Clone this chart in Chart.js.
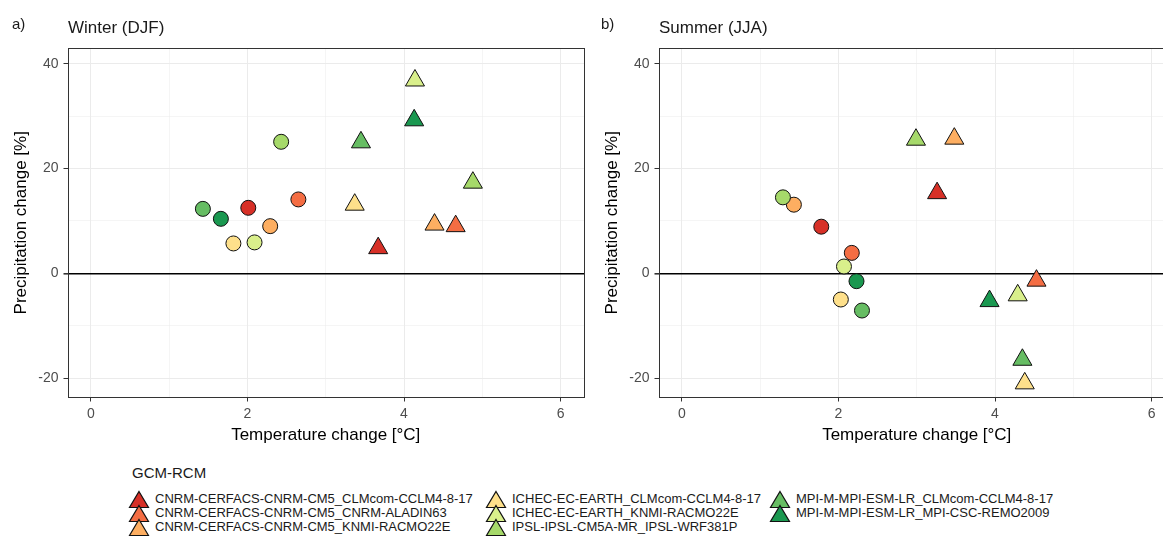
<!DOCTYPE html>
<html>
<head>
<meta charset="utf-8">
<script src="https://cdn.jsdelivr.net/npm/chart.js@4"></script>
<style>
  html, body { margin: 0; padding: 0; background: #fff; overflow: hidden; }
  #page { position: relative; width: 1163px; height: 536px; overflow: hidden; font-family: "Liberation Sans", Arial, sans-serif; color: #1a1a1a; }
  canvas { position: absolute; top: 0; }
  .tag { position: absolute; font-size: 15px; line-height: 18px; }
  .ttl { position: absolute; font-size: 17px; line-height: 20px; }
  .lgtitle { position: absolute; left: 132px; top: 464px; font-size: 15px; line-height: 18px; }
  .item { position: absolute; font-size: 13px; line-height: 14px; white-space: nowrap; }
  .item svg { position: absolute; left: -27px; top: -2px; }
</style>
</head>
<body>
<div id="page">
  <canvas id="winter" width="591" height="450" style="left:0px"></canvas>
  <canvas id="summer" width="591" height="450" style="left:591px"></canvas>
  <div class="tag" style="left:12px;top:15px">a)</div>
  <div class="ttl" style="left:68px;top:18px">Winter (DJF)</div>
  <div class="tag" style="left:601px;top:15px">b)</div>
  <div class="ttl" style="left:659px;top:18px">Summer (JJA)</div>
  <div class="lgtitle">GCM-RCM</div>
  <div id="legend"></div>
</div>
<script>
// GCM-RCM combinations and their colours (RdYlGn)
const models = [
  "CNRM-CERFACS-CNRM-CM5_CLMcom-CCLM4-8-17",
  "CNRM-CERFACS-CNRM-CM5_CNRM-ALADIN63",
  "CNRM-CERFACS-CNRM-CM5_KNMI-RACMO22E",
  "ICHEC-EC-EARTH_CLMcom-CCLM4-8-17",
  "ICHEC-EC-EARTH_KNMI-RACMO22E",
  "IPSL-IPSL-CM5A-MR_IPSL-WRF381P",
  "MPI-M-MPI-ESM-LR_CLMcom-CCLM4-8-17",
  "MPI-M-MPI-ESM-LR_MPI-CSC-REMO2009"
];
const colors = ["#d73027", "#f46d43", "#fdae61", "#fee08b", "#d9ef8b", "#a6d96a", "#66bd63", "#1a9850"];

// winter (DJF): circles and triangles, one value per model
const winterCircleT = [2.01, 2.65, 2.29, 1.82, 2.09, 2.43, 1.43, 1.66];
const winterCircleP = [12.5, 14.1, 9.0, 5.7, 5.9, 25.1, 12.3, 10.4];
const winterTriT = [3.67, 4.66, 4.39, 3.37, 4.14, 4.88, 3.45, 4.13];
const winterTriP = [4.8, 9.0, 9.3, 13.1, 36.8, 17.3, 25.0, 29.2];

// summer (JJA)
const summerCircleT = [1.78, 2.17, 1.43, 2.03, 2.07, 1.29, 2.30, 2.23];
const summerCircleP = [8.9, 3.9, 13.1, -5.0, 1.3, 14.5, -7.1, -1.5];
const summerTriT = [3.26, 4.53, 3.48, 4.38, 4.29, 2.99, 4.35, 3.93];
const summerTriP = [15.3, -1.4, 25.7, -21.0, -4.2, 25.5, -16.5, -5.3];

const xTicks = [0, 1, 2, 3, 4, 5, 6];
const yTicks = [-20, -10, 0, 10, 20, 30, 40];

const panelBorder = {
  id: 'panelBorder',
  afterDraw(chart) {
    const a = chart.chartArea, ctx = chart.ctx;
    ctx.save();
    ctx.strokeStyle = '#333';
    ctx.lineWidth = 1;
    ctx.strokeRect(Math.round(a.left) + 0.5, Math.round(a.top) + 0.5,
                   Math.round(a.right - a.left) - 1, Math.round(a.bottom - a.top) - 1);
    ctx.restore();
  }
};

function toPoints(xs, ys) {
  return xs.map((x, i) => ({x: x, y: ys[i]}));
}

function scatterPanel(canvasID, circT, circP, triT, triP) {
  const ctx = document.getElementById(canvasID).getContext('2d');
  return new Chart(ctx, {
    type: 'scatter',
    data: {
      datasets: [{
        data: toPoints(circT, circP),
        pointStyle: 'circle',
        pointRadius: 7.5,
        backgroundColor: colors,
        borderColor: '#111',
        borderWidth: 1
      }, {
        data: toPoints(triT, triP),
        pointStyle: 'triangle',
        pointRadius: 11,
        backgroundColor: colors,
        borderColor: '#111',
        borderWidth: 1
      }]
    },
    options: {
      responsive: false,
      animation: false,
      events: [],
      layout: { autoPadding: false, padding: { top: 48, right: 7, bottom: 0, left: 0 } },
      plugins: { legend: { display: false }, tooltip: { enabled: false } },
      font: { family: '"Liberation Sans", Arial, sans-serif' },
      scales: {
        x: {
          type: 'linear', min: -0.3, max: 6.3,
          afterBuildTicks: s => { s.ticks = xTicks.map(v => ({value: v})); },
          afterFit: s => { s.height = 52.5; s.paddingLeft = 0; s.paddingRight = 0; },
          border: { display: false },
          grid: {
            color: '#ebebeb',
            lineWidth: c => (c.tick && c.tick.value % 2 === 0) ? 1 : 0.5,
            tickLength: 4,
            tickColor: c => (c.tick && c.tick.value % 2 === 0) ? '#333' : 'rgba(0,0,0,0)'
          },
          ticks: {
            autoSkip: false, maxRotation: 0, padding: 4,
            color: '#4d4d4d',
            font: { family: '"Liberation Sans", Arial, sans-serif', size: 14 },
            callback: v => (v % 2 === 0 ? v : '')
          },
          title: {
            display: true, text: 'Temperature change [°C]', color: '#000',
            font: { family: '"Liberation Sans", Arial, sans-serif', size: 17 },
            padding: { top: 0, bottom: 4 }
          }
        },
        y: {
          type: 'linear', min: -23.7, max: 43,
          afterBuildTicks: s => { s.ticks = yTicks.map(v => ({value: v})); },
          afterFit: s => { s.width = 67.5; s.paddingTop = 0; s.paddingBottom = 0; },
          border: { display: false },
          grid: {
            color: c => (c.tick && c.tick.value === 0) ? '#000' : '#ebebeb',
            lineWidth: c => {
              if (!c.tick) return 1;
              if (c.tick.value === 0) return 1.6;
              return c.tick.value % 20 === 0 ? 1 : 0.5;
            },
            tickLength: 4,
            tickColor: c => (c.tick && c.tick.value % 20 === 0) ? '#333' : 'rgba(0,0,0,0)'
          },
          ticks: {
            autoSkip: false, padding: 5,
            color: '#4d4d4d',
            font: { family: '"Liberation Sans", Arial, sans-serif', size: 14 },
            callback: v => (v % 20 === 0 ? v : '')
          },
          title: {
            display: true, text: 'Precipitation change [%]', color: '#000',
            font: { family: '"Liberation Sans", Arial, sans-serif', size: 17 },
            padding: { top: 11.5, bottom: 0 }
          }
        }
      }
    },
    plugins: [panelBorder]
  });
}

scatterPanel('winter', winterCircleT, winterCircleP, winterTriT, winterTriP);
scatterPanel('summer', summerCircleT, summerCircleP, summerTriT, summerTriP);

// legend, filled column by column (3 rows)
const legendCols = [155, 512, 796];
const legendRows = [491.5, 505.7, 520];
const legend = document.getElementById('legend');
models.forEach((m, i) => {
  const div = document.createElement('div');
  div.className = 'item';
  div.style.left = legendCols[Math.floor(i / 3)] + 'px';
  div.style.top = legendRows[i % 3] + 'px';
  div.innerHTML = '<svg width="22" height="19" viewBox="0 0 22 19">' +
    '<polygon points="11,1.5 20.5,17.5 1.5,17.5" fill="' + colors[i] +
    '" stroke="#111" stroke-width="1.2" stroke-linejoin="miter"/></svg>' + m;
  legend.appendChild(div);
});
</script>
</body>
</html>
